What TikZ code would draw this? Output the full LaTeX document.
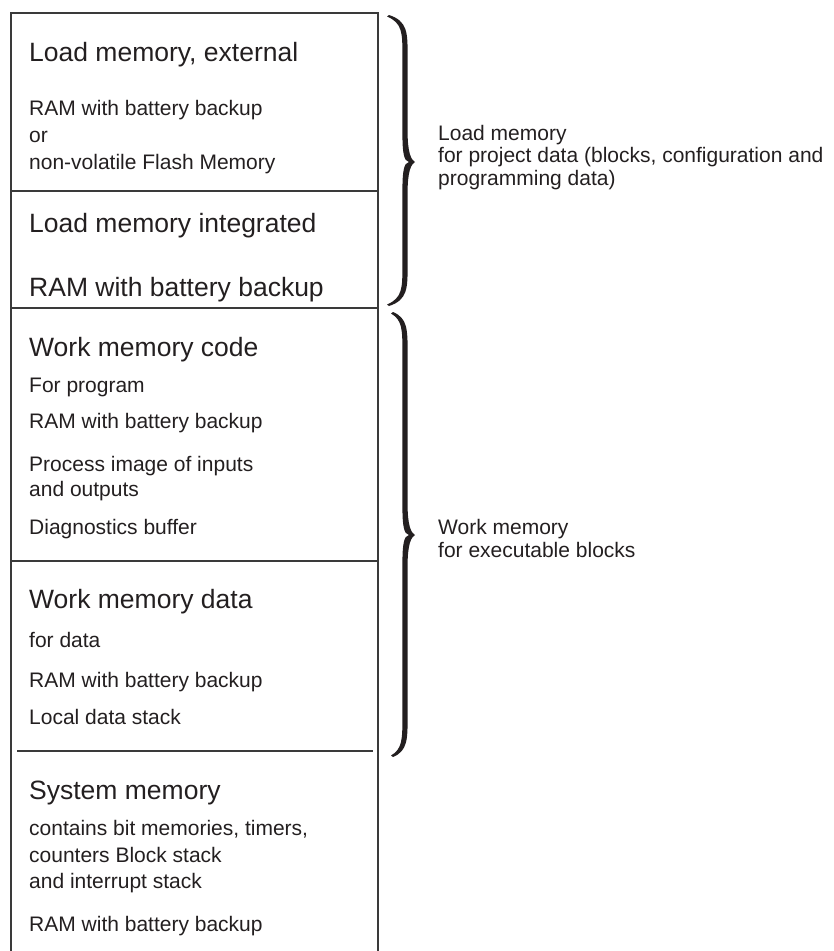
\documentclass[tikz,border=0pt]{standalone}
\usepackage{fontspec}
\setmainfont{Liberation Sans}
\definecolor{ink}{HTML}{231F20}
\definecolor{rule}{HTML}{3A3A3A}
\newcommand\membrace[6]{% x0 y0 stem tipx tipy y1
  \fill[ink] (#1,#2) .. controls ({#3+2.6},{#2+6}) and ({#3+2.6},{#2+18}) .. ({#3+2.6},{#2+40})
    -- ({#3+2.6},{#5-30}) .. controls ({#3+2.6},{#5-10}) and ({#3+6},{#5-2}) .. (#4,#5)
    .. controls ({#3+6},{#5+2}) and ({#3+2.6},{#5+10}) .. ({#3+2.6},{#5+30})
    -- ({#3+2.6},{#6-40}) .. controls ({#3+2.6},{#6-18}) and ({#3+2.6},{#6-6}) .. (#1,#6)
    -- ({#1-2},{#6-1.5}) .. controls ({#3-2.6},{#6-8}) and ({#3-2.6},{#6-18}) .. ({#3-2.6},{#6-40})
    -- ({#3-2.6},{#5+30}) .. controls ({#3-2.6},{#5+8}) and ({#3-1},{#5+1}) .. ({#4-6},#5)
    .. controls ({#3-1},{#5-1}) and ({#3-2.6},{#5-8}) .. ({#3-2.6},{#5-30})
    -- ({#3-2.6},{#2+40}) .. controls ({#3-2.6},{#2+18}) and ({#3-2.6},{#2+8}) .. ({#1-2},{#2+1.5}) -- cycle;}
\begin{document}
\begin{tikzpicture}[x=1pt,y=-1pt,
  big/.style={anchor=base west,inner sep=0pt,text=ink,font=\fontsize{26.5}{30}\selectfont},
  small/.style={anchor=base west,inner sep=0pt,text=ink,font=\fontsize{21}{25}\selectfont},
  frame/.style={draw=rule,line width=1.1pt}]
\useasboundingbox (0,0) rectangle (834,951);
% frame
\coordinate (tl) at (11,13); \coordinate (tr) at (378,13);
\coordinate (bl) at (11,951); \coordinate (br) at (378,951);
\draw[frame] (bl) -- (tl) -- (tr) -- (br);
\coordinate (d1l) at (11,191); \coordinate (d1r) at (378,191);
\coordinate (d2l) at (11,308); \coordinate (d2r) at (378,308);
\coordinate (d3l) at (11,561); \coordinate (d3r) at (378,561);
\coordinate (d4l) at (17,751); \coordinate (d4r) at (373,751);
\draw[frame] (d1l) -- (d1r);
\draw[frame] (d2l) -- (d2r);
\draw[frame] (d3l) -- (d3r);
\draw[frame] (d4l) -- (d4r);
% box 1
\node[big]   (t1)  at (29,61)    {Load memory, external};
\node[small] (t1a) at (29,115.5) {RAM with battery backup};
\node[small] (t1b) at (29,142.5) {or};
\node[small] (t1c) at (29,169.5) {non-volatile Flash Memory};
% box 2
\node[big] (t2)  at (29,232) {Load memory integrated};
\node[big] (t2a) at (29,296) {RAM with battery backup};
% box 3
\node[big]   (t3)  at (29,356) {Work memory code};
\node[small] (t3a) at (29,392) {For program};
\node[small] (t3b) at (29,428) {RAM with battery backup};
\node[small] (t3c) at (29,471) {Process image of inputs};
\node[small] (t3d) at (29,496) {and outputs};
\node[small] (t3e) at (29,534) {Diagnostics buffer};
% box 4
\node[big]   (t4)  at (29,608) {Work memory data};
\node[small] (t4a) at (29,647) {for data};
\node[small] (t4b) at (29,687) {RAM with battery backup};
\node[small] (t4c) at (29,724) {Local data stack};
% box 5
\node[big]   (t5)  at (29,799) {System memory};
\node[small] (t5a) at (29,835) {contains bit memories, timers,};
\node[small] (t5b) at (29,862) {counters Block stack};
\node[small] (t5c) at (29,888) {and interrupt stack};
\node[small] (t5d) at (29,931) {RAM with battery backup};
% braces
\membrace{389}{15}{405}{415}{162}{306}
\membrace{393}{312}{405}{415}{535}{757}
% labels
\node[small] (l1)  at (438,140) {Load memory};
\node[small] (l1a) at (438,162.5) {for project data (blocks, configuration and};
\node[small] (l1b) at (438,185) {programming data)};
\node[small] (l2)  at (438,534.5) {Work memory};
\node[small] (l2a) at (438,557) {for executable blocks};
\end{tikzpicture}
\end{document}
